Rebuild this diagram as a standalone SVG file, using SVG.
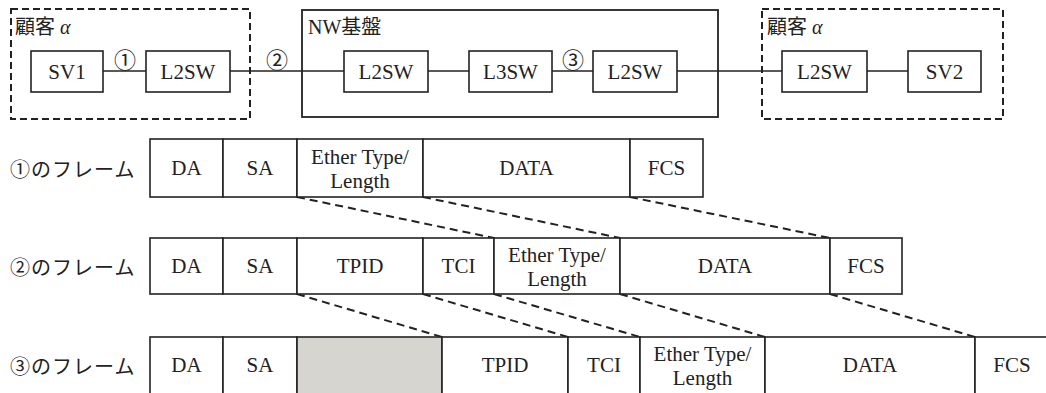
<svg xmlns="http://www.w3.org/2000/svg" width="1046" height="393" viewBox="0 0 1046 393">
<style>
.bg{fill:#fff}
.box{fill:#fff;stroke:#222;stroke-width:1.6}
.grp{fill:none;stroke:#222;stroke-width:1.8}
.dgrp{fill:none;stroke:#222;stroke-width:2;stroke-dasharray:7 4}
.ln{fill:none;stroke:#222;stroke-width:1.6}
.dl{fill:none;stroke:#222;stroke-width:2;stroke-dasharray:8 5}
.shade{fill:#d7d5d0;stroke:#222;stroke-width:1.6}
text{fill:#222}
.t{font-family:"Liberation Serif","Times New Roman","DejaVu Serif",serif;font-size:21px;text-anchor:middle}
.lab{font-family:"Liberation Serif","Noto Sans CJK JP",serif;font-size:20px}
.num{font-family:"Noto Sans CJK JP","DejaVu Sans",sans-serif;font-size:22px;text-anchor:middle}
.fl{font-family:"Liberation Serif","Noto Sans CJK JP",serif;font-size:20px;letter-spacing:1px}
.ital{font-family:"Liberation Serif","DejaVu Serif",serif;font-style:italic}
</style>
<rect class="bg" x="0" y="0" width="1046" height="393"/>

<g id="group-customer1">
<rect class="dgrp" x="11" y="9" width="239" height="110"/>
<text class="lab" x="15" y="34">顧客 <tspan class="ital">α</tspan></text>
</g>
<g id="group-nw">
<rect class="grp" x="302" y="10" width="416" height="107"/>
<text class="lab" x="308" y="34">NW基盤</text>
</g>
<g id="group-customer2">
<rect class="dgrp" x="762" y="9" width="241" height="110"/>
<text class="lab" x="767" y="34">顧客 <tspan class="ital">α</tspan></text>
</g>

<g id="connectors">
<line class="ln" x1="103" y1="71" x2="146" y2="71"/>
<line class="ln" x1="230" y1="71" x2="344" y2="71"/>
<line class="ln" x1="428" y1="71" x2="469" y2="71"/>
<line class="ln" x1="552" y1="71" x2="593" y2="71"/>
<line class="ln" x1="677" y1="71" x2="782" y2="71"/>
<line class="ln" x1="867" y1="71" x2="908" y2="71"/>
<line class="dl" x1="297" y1="197" x2="494" y2="238"/>
<line class="dl" x1="423" y1="197" x2="620" y2="238"/>
<line class="dl" x1="630" y1="197" x2="830" y2="238"/>
<line class="dl" x1="297" y1="294" x2="442" y2="337"/>
<line class="dl" x1="423" y1="294" x2="568" y2="337"/>
<line class="dl" x1="494" y1="294" x2="640" y2="337"/>
<line class="dl" x1="620" y1="294" x2="765" y2="337"/>
<line class="dl" x1="830" y1="294" x2="975" y2="337"/>
</g>

<g id="labels-links">
<text class="num" x="125" y="68">①</text>
<text class="num" x="277" y="68">②</text>
<text class="num" x="573" y="68">③</text>
</g>

<g id="sv1"><rect class="box" x="31" y="51" width="72" height="41"/><text class="t" x="67" y="79">SV1</text></g>
<g id="l2sw1"><rect class="box" x="146" y="51" width="84" height="41"/><text class="t" x="188" y="79">L2SW</text></g>
<g id="l2sw2"><rect class="box" x="344" y="51" width="84" height="41"/><text class="t" x="386" y="79">L2SW</text></g>
<g id="l3sw"><rect class="box" x="469" y="51" width="83" height="41"/><text class="t" x="510.5" y="79">L3SW</text></g>
<g id="l2sw3"><rect class="box" x="593" y="51" width="84" height="41"/><text class="t" x="635" y="79">L2SW</text></g>
<g id="l2sw4"><rect class="box" x="782" y="51" width="85" height="41"/><text class="t" x="824.5" y="79">L2SW</text></g>
<g id="sv2"><rect class="box" x="908" y="51" width="73" height="41"/><text class="t" x="944.5" y="79">SV2</text></g>

<g id="frame1">
<text class="fl" x="10" y="177">①のフレーム</text>
<rect class="box" x="150" y="139" width="73" height="58"/><text class="t" x="186.5" y="175">DA</text>
<rect class="box" x="223" y="139" width="74" height="58"/><text class="t" x="260" y="175">SA</text>
<rect class="box" x="297" y="139" width="126" height="58"/><text class="t" x="360" y="164">Ether Type/</text><text class="t" x="360" y="188">Length</text>
<rect class="box" x="423" y="139" width="207" height="58"/><text class="t" x="526.5" y="175">DATA</text>
<rect class="box" x="630" y="139" width="73" height="58"/><text class="t" x="666.5" y="175">FCS</text>
</g>

<g id="frame2">
<text class="fl" x="10" y="275">②のフレーム</text>
<rect class="box" x="150" y="238" width="73" height="56"/><text class="t" x="186.5" y="273">DA</text>
<rect class="box" x="223" y="238" width="74" height="56"/><text class="t" x="260" y="273">SA</text>
<rect class="box" x="297" y="238" width="126" height="56"/><text class="t" x="360" y="273">TPID</text>
<rect class="box" x="423" y="238" width="71" height="56"/><text class="t" x="458.5" y="273">TCI</text>
<rect class="box" x="494" y="238" width="126" height="56"/><text class="t" x="557" y="262">Ether Type/</text><text class="t" x="557" y="286">Length</text>
<rect class="box" x="620" y="238" width="210" height="56"/><text class="t" x="725" y="273">DATA</text>
<rect class="box" x="830" y="238" width="72" height="56"/><text class="t" x="866" y="273">FCS</text>
</g>

<g id="frame3">
<text class="fl" x="10" y="374">③のフレーム</text>
<rect class="box" x="150" y="337" width="73" height="58"/><text class="t" x="186.5" y="372">DA</text>
<rect class="box" x="223" y="337" width="74" height="58"/><text class="t" x="260" y="372">SA</text>
<rect class="shade" x="297" y="337" width="145" height="58"/>
<rect class="box" x="442" y="337" width="126" height="58"/><text class="t" x="505" y="372">TPID</text>
<rect class="box" x="568" y="337" width="72" height="58"/><text class="t" x="604" y="372">TCI</text>
<rect class="box" x="640" y="337" width="125" height="58"/><text class="t" x="702.5" y="361">Ether Type/</text><text class="t" x="702.5" y="385">Length</text>
<rect class="box" x="765" y="337" width="210" height="58"/><text class="t" x="870" y="372">DATA</text>
<rect class="box" x="975" y="337" width="80" height="58"/><text class="t" x="1012" y="372">FCS</text>
</g>
</svg>
